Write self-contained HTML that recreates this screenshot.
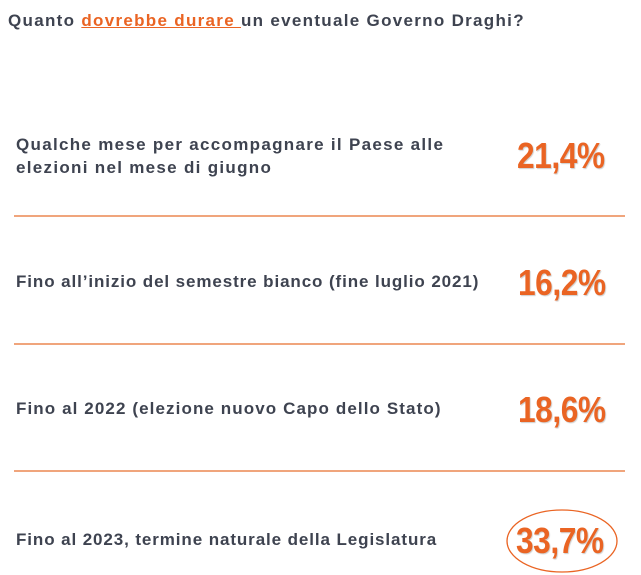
<!DOCTYPE html>
<html><head><meta charset="utf-8"><style>
body{margin:0;width:641px;height:574px;background:#fff;position:relative;overflow:hidden;font-family:"Liberation Sans",sans-serif;}
.t{position:absolute;font-weight:bold;color:#3e4350;font-size:17px;letter-spacing:0.9px;white-space:nowrap;}
.p{position:absolute;font-weight:bold;color:#ea6423;font-size:36px;line-height:40px;letter-spacing:-0.5px;transform:scaleX(0.88);transform-origin:left center;text-shadow:1px 1px 1px rgba(0,0,0,0.2);}
.l{position:absolute;left:14px;width:611px;height:2px;background:#f0a57c;}
</style></head><body>
<div class="t" style="left:8px;top:11px;letter-spacing:1.3px">Quanto <span style="color:#ea6423;text-decoration:underline">dovrebbe durare </span>un eventuale Governo Draghi?</div>
<div class="t" style="left:16px;top:133px;line-height:23px;letter-spacing:1.3px">Qualche mese per accompagnare il Paese alle<br>elezioni nel mese di giugno</div>
<div class="p" style="left:517px;top:136px">21,4%</div>
<div class="l" style="top:215px"></div>
<div class="t" style="left:16px;top:272px">Fino all’inizio del semestre bianco (fine luglio 2021)</div>
<div class="p" style="left:518px;top:263px">16,2%</div>
<div class="l" style="top:343px"></div>
<div class="t" style="left:16px;top:399px;letter-spacing:1.1px">Fino al 2022 (elezione nuovo Capo dello Stato)</div>
<div class="p" style="left:518px;top:390px">18,6%</div>
<div class="l" style="top:470px"></div>
<div class="t" style="left:16px;top:530px">Fino al 2023, termine naturale della Legislatura</div>
<div class="p" style="left:516px;top:521px">33,7%</div>
<svg style="position:absolute;left:500px;top:505px" width="125" height="70"><ellipse cx="62" cy="36" rx="55" ry="31" fill="none" stroke="#ea6423" stroke-width="1.3"/></svg>
</body></html>
